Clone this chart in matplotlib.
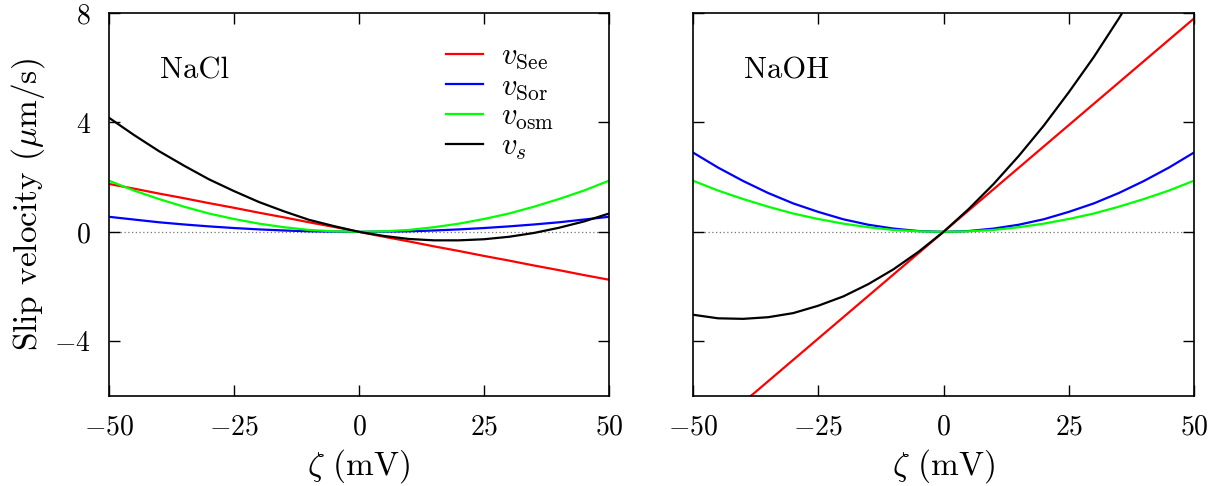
import matplotlib
matplotlib.use("Agg")
import matplotlib.pyplot as plt

plt.rcParams["font.family"] = "serif"
plt.rcParams["font.serif"] = ["cmr10"]
plt.rcParams["mathtext.fontset"] = "cm"
plt.rcParams["axes.formatter.use_mathtext"] = True

# zeta potential (mV)
zeta = [-50, -45, -40, -35, -30, -25, -20, -15, -10, -5, 0,
        5, 10, 15, 20, 25, 30, 35, 40, 45, 50]

# NaCl slip velocities (um/s)
see_nacl = [1.75, 1.58, 1.40, 1.23, 1.05, 0.88, 0.70, 0.53, 0.35, 0.18, 0.0,
            -0.18, -0.35, -0.53, -0.70, -0.88, -1.05, -1.23, -1.40, -1.58, -1.75]
sor_nacl = [0.55, 0.45, 0.35, 0.27, 0.20, 0.14, 0.09, 0.05, 0.02, 0.01, 0.0,
            0.01, 0.02, 0.05, 0.09, 0.14, 0.20, 0.27, 0.35, 0.45, 0.55]
osm_nacl = [1.87, 1.51, 1.20, 0.92, 0.67, 0.47, 0.30, 0.17, 0.07, 0.02, 0.0,
            0.02, 0.07, 0.17, 0.30, 0.47, 0.67, 0.92, 1.20, 1.51, 1.87]
vs_nacl = [4.17, 3.54, 2.95, 2.42, 1.92, 1.49, 1.09, 0.75, 0.44, 0.21, 0.0,
           -0.15, -0.26, -0.31, -0.31, -0.27, -0.18, -0.04, 0.15, 0.38, 0.67]

# NaOH slip velocities (um/s)
see_naoh = [-7.80, -7.02, -6.24, -5.46, -4.68, -3.90, -3.12, -2.34, -1.56, -0.78, 0.0,
            0.78, 1.56, 2.34, 3.12, 3.90, 4.68, 5.46, 6.24, 7.02, 7.80]
sor_naoh = [2.90, 2.35, 1.86, 1.42, 1.04, 0.73, 0.46, 0.26, 0.12, 0.03, 0.0,
            0.03, 0.12, 0.26, 0.46, 0.73, 1.04, 1.42, 1.86, 2.35, 2.90]
osm_naoh = [1.87, 1.51, 1.20, 0.92, 0.67, 0.47, 0.30, 0.17, 0.07, 0.02, 0.0,
            0.02, 0.07, 0.17, 0.30, 0.47, 0.67, 0.92, 1.20, 1.51, 1.87]
vs_naoh = [-3.03, -3.16, -3.18, -3.12, -2.97, -2.70, -2.36, -1.91, -1.37, -0.73, 0.0,
           0.83, 1.75, 2.77, 3.88, 5.10, 6.39, 7.80, 9.30, 10.88, 12.57]

labels = [r"$v_{\rm See}$", r"$v_{\rm Sor}$", r"$v_{\rm osm}$", r"$v_s$"]
colors = ["#ff0000", "#0000ff", "#00ff00", "#000000"]
xticks = [-50, -25, 0, 25, 50]
yticks = [-4, 0, 4, 8]

fig = plt.figure(figsize=(12.23, 4.86), dpi=100)
ax1 = fig.add_axes([109 / 1223, 1 - 396 / 486, 500 / 1223, 383 / 486])
ax2 = fig.add_axes([693 / 1223, 1 - 396 / 486, 501 / 1223, 383 / 486])

panels = [
    (ax1, "NaCl", [see_nacl, sor_nacl, osm_nacl, vs_nacl]),
    (ax2, "NaOH", [see_naoh, sor_naoh, osm_naoh, vs_naoh]),
]

for ax, name, series in panels:
    ax.axhline(0, color="#777777", linestyle=(0, (1, 2)), linewidth=0.9, zorder=1)
    for vals, lab, col in zip(series, labels, colors):
        ax.plot(zeta, vals, color=col, linewidth=1.6, label=lab, zorder=2)
    ax.set_xlim(-50, 50)
    ax.set_ylim(-6, 8)
    ax.set_xticks(xticks)
    ax.set_yticks(yticks)
    ax.tick_params(direction="in", length=8, width=1.0, top=True, right=True,
                   labelsize=20, pad=13)
    for sp in ax.spines.values():
        sp.set_linewidth(1.2)
    ax.set_xlabel(r"$\zeta$ (mV)", fontsize=24, labelpad=5)
    ax.text(0.102, 0.85, name, transform=ax.transAxes, fontsize=22,
            ha="left", va="center")

ax1.set_ylabel(r"Slip velocity ($\mu$m/s)", fontsize=24, labelpad=5)
ax2.tick_params(labelleft=False)

ax1.legend(loc="upper left", bbox_to_anchor=(0.638, 0.97), frameon=False,
           fontsize=22, handlelength=1.2, handletextpad=0.6, labelspacing=0.05,
           borderaxespad=0.2)

fig.savefig("out.png", dpi=100)
